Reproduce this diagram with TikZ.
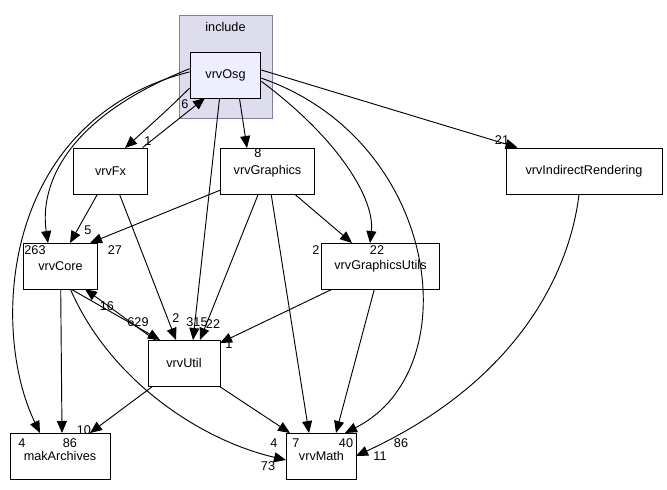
\documentclass[tikz,border=0pt]{standalone}
\usepackage{fontspec}
\setmainfont{Liberation Sans}
\usetikzlibrary{positioning,arrows.meta,calc}
\definecolor{clusterfill}{HTML}{DDDDEE}
\definecolor{clusterline}{HTML}{7F7F9F}
\definecolor{osgfill}{HTML}{EEEEFF}
\begin{document}
\begin{tikzpicture}[x=0.75pt,y=-0.75pt,line width=0.7pt,
    every node/.style={font=\fontsize{9.5}{11}\selectfont},
    dir/.style={draw=black,fill=white,minimum height=34.5pt,inner sep=0pt},
    dep/.style={-{Triangle[length=9pt,width=7.5pt]},black},
    cnt/.style={inner sep=1pt}]
    \useasboundingbox (0,0) rectangle (667,489);
    % cluster
    \draw [clusterline,fill=clusterfill] (179,15) rectangle (272,118);
    \node (inc) at (225.5,27) {include};
    % directories
    \node [dir,fill=osgfill,minimum width=53pt] (osg) at (225.5,75) {vrvOsg};
    \node [dir,minimum width=55pt] (fx) at (110.5,171) {vrvFx};
    \node [dir,minimum width=70pt] (gfx) at (267.5,171) {vrvGraphics};
    \node [dir,minimum width=117pt] (ind) at (584,171) {vrvIndirectRendering};
    \node [dir,minimum width=55pt] (core) at (60.5,266) {vrvCore};
    \node [dir,minimum width=89pt] (gu) at (380.5,266) {vrvGraphicsUtils};
    \node [dir,minimum width=54pt] (util) at (184,363) {vrvUtil};
    \node [dir,minimum width=75pt] (mak) at (60,456) {makArchives};
    \node [dir,minimum width=53pt] (math) at (321.5,456) {vrvMath};
    % dependencies
    \draw [dep] (osg.200) .. controls (165,112) .. (125,148);
    \node [cnt] (l1) at (148,141) {1};
    \draw [dep] ($(fx.north east)+(-5,0)$) -- (205,98);
    \node [cnt] (l6) at (185,104) {6};
    \draw [dep] ($(osg.south)+(14,0)$) -- (247,148);
    \node [cnt] (l8) at (258,153) {8};
    \draw [dep] ($(osg.east)+(0,-5)$) -- ($(ind.north west)+(12,0)$);
    \node [cnt] (l21) at (502,140) {21};
    \draw [dep] (osg.170) .. controls (60,120) and (40,190) .. (48,243);
    \node [cnt] (l263) at (35,250) {263};
    \draw [dep] (osg.175) .. controls (0,120) and (-10,330) .. (40,433);
    \node [cnt] (l4a) at (22,443) {4};
    \draw [dep] ($(osg.south)+(-6,0)$) -- (193,340);
    \node [cnt] (l315) at (197,322) {315};
    \draw [dep] (osg.-10) .. controls (340,140) and (375,200) .. (370,243);
    \node [cnt] (l22a) at (377,250) {22};
    \draw [dep] (osg.-5) .. controls (440,140) and (470,370) .. (345,433);
    \node [cnt] (l86a) at (401,443) {86};
    \draw [dep] (fx) -- (70,243);
    \node [cnt] (l5) at (88,230) {5};
    \draw [dep] (fx) -- (176,340);
    \node [cnt] (l2a) at (176,318) {2};
    \draw [dep] (gfx) -- (200,340);
    \node [cnt] (l22b) at (213,324) {22};
    \draw [dep] (gfx) -- (90,243);
    \node [cnt] (l27) at (115,250) {27};
    \draw [dep] (gfx) -- (352,243);
    \node [cnt] (l2b) at (316,250) {2};
    \draw [dep] (gfx) -- (309,433);
    \node [cnt] (l7) at (296,443) {7};
    \draw [dep] ($(ind.south)+(-5,0)$) .. controls (570,270) and (520,380) .. (356,456);
    \node [cnt] (l11) at (380,456) {11};
    \draw [dep] ($(core.south east)+(-26,0)$) -- (160,340);
    \node [cnt] (l629) at (138,322) {629};
    \draw [dep] (155,340) coordinate (ub) -- (85,289);
    \node [cnt] (l16) at (107,306) {16};
    \draw [dep] (core) -- (62,433);
    \node [cnt] (l86b) at (70,443) {86};
    \draw [dep] ($(core.south)+(10,0)$) .. controls (110,380) and (200,440) .. (286,460);
    \node [cnt] (l73) at (268,466) {73};
    \draw [dep] (gu) -- (220,343);
    \node [cnt] (l1b) at (229,344) {1};
    \draw [dep] (gu) -- (336,433);
    \node [cnt] (l40) at (346,443) {40};
    \draw [dep] (util) -- (90,433);
    \node [cnt] (l10) at (84,430) {10};
    \draw [dep] (util) -- (290,433);
    \node [cnt] (l4b) at (274,443) {4};
\end{tikzpicture}
\end{document}
